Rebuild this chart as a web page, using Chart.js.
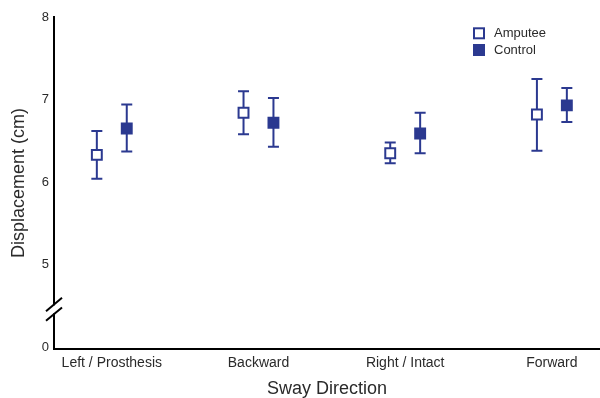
<!DOCTYPE html>
<html>
<head>
<meta charset="utf-8">
<script src="https://cdn.jsdelivr.net/npm/chart.js@4.4.1/dist/chart.umd.min.js"></script>
<style>
    html, body { margin: 0; padding: 0; background: #fff; }
    canvas { display: block; }
</style>
</head>
<body>
<canvas id="swayChart" width="600" height="398"></canvas>
<script>
const categories = ['Left / Prosthesis', 'Backward', 'Right / Intact', 'Forward'];
const amputeeMean = [6.33, 6.84, 6.35, 6.82];
const amputeeLow = [6.04, 6.58, 6.23, 6.38];
const amputeeHigh = [6.62, 7.10, 6.48, 7.25];
const controlMean = [6.65, 6.72, 6.59, 6.93];
const controlLow = [6.37, 6.43, 6.35, 6.73];
const controlHigh = [6.94, 7.02, 6.84, 7.14];
// broken axis: the bottom tick stands for 0
const yTickValues = [4, 5, 6, 7, 8];
const yTickLabels = ['0', '5', '6', '7', '8'];

const BLUE = '#2b3990';
const TEXT = '#2a2a2a';
const FONT = "'Liberation Sans', Arial, Helvetica, sans-serif";

function points(means, offset) {
    return means.map((v, i) => ({ x: i + offset, y: v }));
}

const errorBars = {
    id: 'errorBars',
    beforeDatasetsDraw(chart) {
        const { ctx } = chart;
        const y = chart.scales.y;
        ctx.save();
        ctx.strokeStyle = BLUE;
        ctx.lineWidth = 2;
        chart.data.datasets.forEach((ds, di) => {
            chart.getDatasetMeta(di).data.forEach((pt, i) => {
                const top = y.getPixelForValue(ds.high[i]);
                const bot = y.getPixelForValue(ds.low[i]);
                ctx.beginPath();
                ctx.moveTo(pt.x, top); ctx.lineTo(pt.x, bot);
                ctx.moveTo(pt.x - 5.5, top); ctx.lineTo(pt.x + 5.5, top);
                ctx.moveTo(pt.x - 5.5, bot); ctx.lineTo(pt.x + 5.5, bot);
                ctx.stroke();
            });
        });
        ctx.restore();
    }
};

const axisBreak = {
    id: 'axisBreak',
    afterDraw(chart) {
        const { ctx, chartArea } = chart;
        const x = chartArea.left;
        const yc = chart.scales.y.getPixelForValue(4.46);
        ctx.save();
        ctx.fillStyle = '#fff';
        ctx.fillRect(x - 2, yc - 4, 4, 8);
        ctx.strokeStyle = '#000';
        ctx.lineWidth = 2;
        [-4.8, 4.8].forEach(d => {
            ctx.beginPath();
            ctx.moveTo(x - 8, yc + d + 6.7);
            ctx.lineTo(x + 8, yc + d - 6.7);
            ctx.stroke();
        });
        ctx.restore();
    }
};

const boxLegend = {
    id: 'boxLegend',
    afterDraw(chart) {
        const { ctx } = chart;
        ctx.save();
        ctx.font = '13px ' + FONT;
        ctx.textBaseline = 'middle';
        ctx.textAlign = 'left';
        chart.data.datasets.forEach((ds, i) => {
            const cy = 33.3 + i * 16.7;
            ctx.fillStyle = ds.backgroundColor;
            ctx.fillRect(474, cy - 5, 10, 10);
            ctx.strokeStyle = ds.borderColor;
            ctx.lineWidth = 2;
            ctx.strokeRect(474, cy - 5, 10, 10);
            ctx.fillStyle = TEXT;
            ctx.fillText(ds.label, 494, cy);
        });
        ctx.restore();
    }
};

const marker = { pointStyle: 'rect', pointRadius: 7, pointHoverRadius: 7, borderWidth: 2, borderColor: BLUE, showLine: false };

new Chart(document.getElementById('swayChart').getContext('2d'), {
    type: 'scatter',
    data: {
        datasets: [
            Object.assign({ label: 'Amputee', data: points(amputeeMean, -0.102), low: amputeeLow, high: amputeeHigh, backgroundColor: '#ffffff' }, marker),
            Object.assign({ label: 'Control', data: points(controlMean, 0.102), low: controlLow, high: controlHigh, backgroundColor: BLUE }, marker)
        ]
    },
    options: {
        responsive: false,
        animation: false,
        devicePixelRatio: 1,
        layout: { autoPadding: false, padding: { top: 17, right: 0, bottom: 0, left: 0 } },
        plugins: { legend: { display: false }, tooltip: { enabled: false } },
        scales: {
            x: {
                type: 'linear',
                min: -0.394,
                max: 3.328,
                afterBuildTicks: s => { s.ticks = categories.map((c, i) => ({ value: i })); },
                afterFit: s => { s.height = 49; s.paddingLeft = 0; s.paddingRight = 0; },
                grid: { display: false, drawTicks: false },
                border: { display: true, color: '#000', width: 2 },
                ticks: {
                    autoSkip: false, maxRotation: 0, padding: 6, color: TEXT,
                    font: { family: FONT, size: 14 },
                    callback: v => categories[v] ?? ''
                },
                title: {
                    display: true, text: 'Sway Direction', color: TEXT,
                    font: { family: FONT, size: 18, lineHeight: 1 },
                    padding: { top: 0, bottom: 0 }
                }
            },
            y: {
                min: 3.98,
                max: 8,
                afterBuildTicks: s => { s.ticks = yTickValues.map(v => ({ value: v })); },
                afterFit: s => { s.width = 54; s.paddingTop = 0; s.paddingBottom = 0; },
                grid: { display: false, drawTicks: false },
                border: { display: true, color: '#000', width: 2 },
                ticks: {
                    padding: 5, color: TEXT,
                    font: { family: FONT, size: 13 },
                    callback: v => yTickLabels[yTickValues.indexOf(v)]
                },
                title: {
                    display: true, text: 'Displacement (cm)', color: TEXT,
                    font: { family: FONT, size: 18, lineHeight: 1.2 },
                    padding: { top: 8, bottom: 0 }
                }
            }
        }
    },
    plugins: [errorBars, axisBreak, boxLegend]
});
</script>
</body>
</html>
